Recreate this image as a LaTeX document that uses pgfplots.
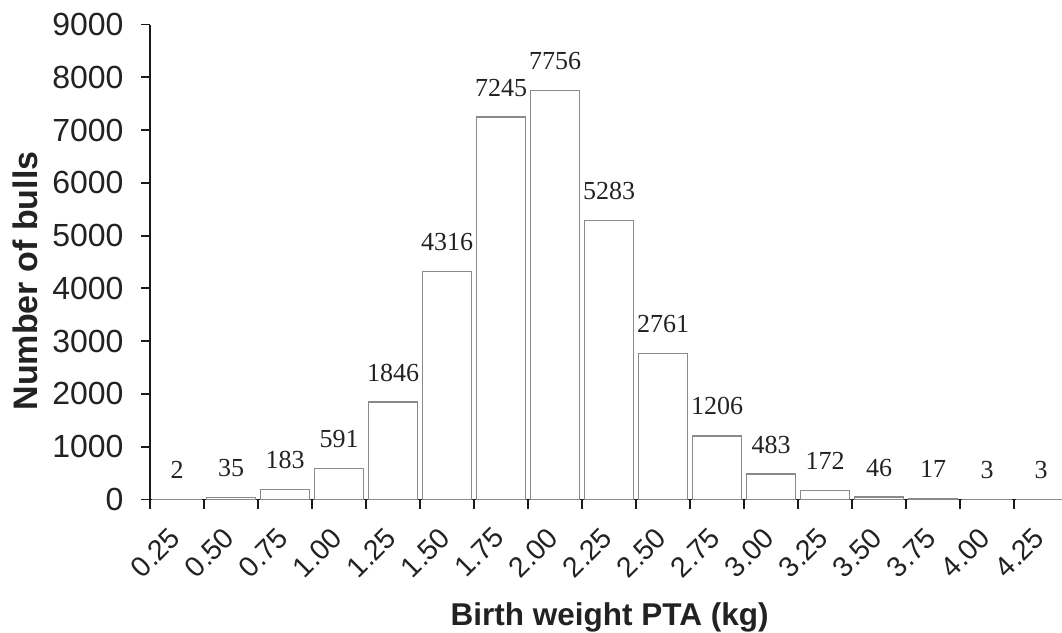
\documentclass[border=0pt]{standalone}
\usepackage{fontspec}
\setmainfont{Liberation Sans}
\newfontfamily\numserif{Liberation Serif}
\usepackage{pgfplots}
\pgfplotsset{compat=1.18}
\definecolor{axcol}{HTML}{1A1A1A}
\definecolor{barcol}{HTML}{8A8A8A}
\definecolor{txtcol}{HTML}{222222}
\begin{document}
\begin{tikzpicture}
\begin{axis}[
  at={(0,0)}, anchor=south west,
  scale only axis, width=912pt, height=475pt,
  xmin=0.25, xmax=4.472, ymin=0, ymax=9000,
  axis lines*=left,
  axis line style={line width=1.8pt, color=axcol},
  tick align=outside, major tick length=9pt,
  tick style={line width=1.8pt, color=axcol},
  xtick={0.25,0.5,...,4.25},
  xticklabels={0.25,0.50,0.75,1.00,1.25,1.50,1.75,2.00,2.25,2.50,2.75,3.00,3.25,3.50,3.75,4.00,4.25},
  ytick={0,1000,...,9000},
  /pgf/number format/.cd, 1000 sep={}, assume math mode=true,
  /pgfplots/.cd,
  yticklabel style={font=\fontsize{32}{38}\selectfont, text=txtcol, xshift=-14pt},
  xticklabel style={font=\fontsize{28.5}{34}\selectfont, text=txtcol, anchor=center, xshift=5.5pt, yshift=-44pt, rotate=45},
  xlabel={Birth weight PTA (kg)},
  ylabel={Number of bulls},
  every axis x label/.style={at={(axis description cs:0.504,-0.2642)}, anchor=base, font=\bfseries\fontsize{31.5}{37}\selectfont, text=txtcol},
  every axis y label/.style={at={(axis description cs:-0.1365,0.46)}, anchor=center, rotate=90, font=\bfseries\fontsize{34}{40}\selectfont, text=txtcol},
  clip=false,
]
\addplot[ybar, bar width=48.6pt, draw=barcol, line width=1.3pt, fill=white,
  nodes near coords,
  every node near coord/.append style={font=\numserif\fontsize{26}{31}\selectfont, text=txtcol, anchor=south, inner sep=0pt, yshift=20pt}]
coordinates {
(0.375,2) (0.625,35) (0.875,183) (1.125,591) (1.375,1846) (1.625,4316)
(1.875,7245) (2.125,7756) (2.375,5283) (2.625,2761) (2.875,1206)
(3.125,483) (3.375,172) (3.625,46) (3.875,17) (4.125,3) (4.375,3)
};
\end{axis}
\pgfresetboundingbox
\path (-150pt,-132.5pt) rectangle (912pt,499.5pt);
\end{tikzpicture}
\end{document}
